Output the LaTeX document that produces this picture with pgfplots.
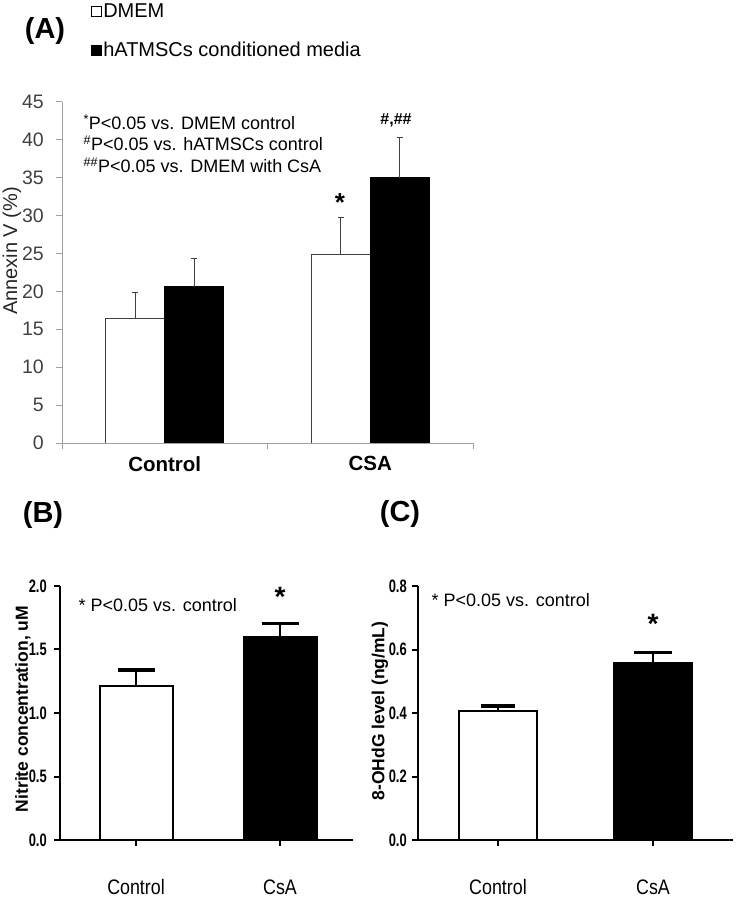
\documentclass[border=0pt]{standalone}
\usepackage{pgfplots}
\pgfplotsset{compat=1.18}
\usepackage{fontspec}
\setmainfont{Liberation Sans}
\newfontfamily\narrowb[FakeStretch=0.72]{Liberation Sans Bold}
\newfontfamily\semnarrow[FakeStretch=0.85]{Liberation Sans}
\definecolor{axgray}{HTML}{A0A0A0}
\definecolor{txtgray}{HTML}{404040}
\newcommand{\fs}[1]{\fontsize{#1}{#1}\selectfont}
\begin{document}
\begin{tikzpicture}[x=1pt,y=1pt]
\useasboundingbox (0pt,0pt) rectangle (738pt,902pt);
% ---------------- Panel A ----------------
\begin{axis}[
  at={(62pt,459pt)}, anchor=south west,
  scale only axis, width=411pt, height=341.3pt,
  xmin=-0.5, xmax=1.5, ymin=0, ymax=45,
  axis lines*=left,
  axis line style={-, draw=axgray, line width=0.9pt},
  ybar=0pt, bar width=59pt,
  tick align=outside,
  ytick={0,5,...,45},
  major tick length=6pt,
  tick style={draw=axgray, line width=0.9pt},
  yticklabel style={font=\fs{19.5}, text=txtgray, inner sep=0pt, xshift=-12pt},
  xtick={-0.5,0.5,1.5}, xticklabels={},
  extra x ticks={0,1}, extra x tick labels={Control,CSA},
  extra x tick style={major tick length=0pt, tick style={draw=none},
     xticklabel style={font=\bfseries\fs{20.5}, text=black, yshift=-10pt}},
  /pgf/number format/assume math mode=true,
  legend style={at={(0.063,1.297)}, anchor=north west, draw=none, fill=none,
     font=\fs{20}, row sep=20pt, nodes={inner sep=1.5pt}},
  legend cell align=left,
]
\addplot[fill=white, draw=txtgray, line width=0.9pt,
  legend image code/.code={\draw[fill=white, draw=black, line width=0.7pt] (0pt,-5pt) rectangle (10pt,5pt);},
  error bars/.cd, y dir=plus, y explicit,
  error bar style={line width=0.9pt, draw=txtgray},
  error mark options={draw=txtgray, line width=0.9pt, mark size=3pt, rotate=90}]
  coordinates {(0,16.4) +- (0,3.5) (1,24.8) +- (0,5.0)};
\addlegendentry{DMEM}
\addplot[fill=black, draw=black, line width=0.9pt,
  legend image code/.code={\draw[fill=black, draw=black, line width=0.7pt] (0pt,-5pt) rectangle (10pt,5pt);},
  error bars/.cd, y dir=plus, y explicit,
  error bar style={line width=0.9pt, draw=txtgray},
  error mark options={draw=txtgray, line width=0.9pt, mark size=3pt, rotate=90}]
  coordinates {(0,20.6) +- (0,3.7) (1,35.0) +- (0,5.3)};
\addlegendentry{hATMSCs conditioned media}
\end{axis}
\node[font=\bfseries\fs{29}] at (45pt,871pt) {(A)};
\node[rotate=90, font=\fs{20}, text=black!85, inner sep=0pt] at (12pt,651pt) {Annexin V (\%)};
\node[anchor=west, font=\fs{18}] at (80pt,780pt) {\textsuperscript{*}P<0.05 vs. DMEM control};
\node[anchor=west, font=\fs{18}] at (80pt,759pt) {\textsuperscript{\#}P<0.05 vs. hATMSCs control};
\node[anchor=west, font=\fs{18}] at (80pt,737pt) {\textsuperscript{\#\#}P<0.05 vs. DMEM with CsA};
\node[anchor=north, inner sep=0pt, font=\bfseries\fs{16}] at (396pt,789pt) {\#,\#\#};
\node[anchor=north, inner sep=0pt, font=\bfseries\fs{26}] at (340pt,709pt) {*};
% ---------------- Panel B ----------------
\begin{axis}[
  at={(60pt,62pt)}, anchor=south west,
  scale only axis, width=293pt, height=254pt,
  xmin=-0.528, xmax=1.507, ymin=0, ymax=2,
  axis lines*=left,
  axis line style={-, draw=black, line width=2pt},
  ybar=0pt, bar width=73pt, bar shift=0pt,
  tick align=outside, major tick length=6pt,
  tick style={draw=black, line width=2pt},
  ytick={0,0.5,...,2}, xtick={0,1}, xticklabels={Control,CsA},
  /pgf/number format/.cd, fixed, fixed zerofill, precision=1, assume math mode=true,
  /pgfplots/.cd,
  yticklabel style={font=\narrowb\fs{18}, inner sep=0pt, xshift=-7pt},
  xticklabel style={font=\semnarrow\fs{21}, yshift=-30pt},
]
\addplot[fill=white, draw=black, line width=2pt,
  error bars/.cd, y dir=plus, y explicit,
  error bar style={line width=2pt, draw=black},
  error mark options={draw=black, line width=3.5pt, mark size=18.5pt, rotate=90}]
  coordinates {(0,1.21) +- (0,0.13)};
\addplot[fill=black, draw=black, line width=2pt,
  error bars/.cd, y dir=plus, y explicit,
  error bar style={line width=2pt, draw=black},
  error mark options={draw=black, line width=3.5pt, mark size=18.5pt, rotate=90}]
  coordinates {(1,1.60) +- (0,0.105)};
\end{axis}
\node[font=\bfseries\fs{29}] at (43pt,387pt) {(B)};
\node[rotate=90, font=\bfseries\fs{17.5}, inner sep=0pt] at (23pt,193pt) {Nitrite concentration, uM};
\node[anchor=west, font=\fs{18}] at (75pt,297pt) {* P<0.05 vs. control};
\node[anchor=north, inner sep=0pt, font=\bfseries\fs{28}] at (280pt,315pt) {*};
% ---------------- Panel C ----------------
\begin{axis}[
  at={(418pt,62pt)}, anchor=south west,
  scale only axis, width=315pt, height=254pt,
  xmin=-0.516, xmax=1.516, ymin=0, ymax=0.8,
  axis lines*=left,
  axis line style={-, draw=black, line width=2pt},
  ybar=0pt, bar width=78pt, bar shift=0pt,
  tick align=outside, major tick length=6pt,
  tick style={draw=black, line width=2pt},
  ytick={0,0.2,...,0.8}, xtick={0,1}, xticklabels={Control,CsA},
  /pgf/number format/.cd, fixed, fixed zerofill, precision=1, assume math mode=true,
  /pgfplots/.cd,
  yticklabel style={font=\narrowb\fs{18}, inner sep=0pt, xshift=-5pt},
  xticklabel style={font=\semnarrow\fs{21}, yshift=-30pt},
]
\addplot[fill=white, draw=black, line width=2pt,
  error bars/.cd, y dir=plus, y explicit,
  error bar style={line width=2pt, draw=black},
  error mark options={draw=black, line width=3.5pt, mark size=17pt, rotate=90}]
  coordinates {(0,0.407) +- (0,0.015)};
\addplot[fill=black, draw=black, line width=2pt,
  error bars/.cd, y dir=plus, y explicit,
  error bar style={line width=2pt, draw=black},
  error mark options={draw=black, line width=3.5pt, mark size=19pt, rotate=90}]
  coordinates {(1,0.558) +- (0,0.032)};
\end{axis}
\node[font=\bfseries\fs{29}] at (400pt,388pt) {(C)};
\node[rotate=90, font=\bfseries\fs{17.5}, inner sep=0pt] at (380pt,191pt) {8-OHdG level (ng/mL)};
\node[anchor=west, font=\fs{18}] at (428pt,302pt) {* P<0.05 vs. control};
\node[anchor=north, inner sep=0pt, font=\bfseries\fs{28}] at (653pt,288pt) {*};
\end{tikzpicture}
\end{document}
